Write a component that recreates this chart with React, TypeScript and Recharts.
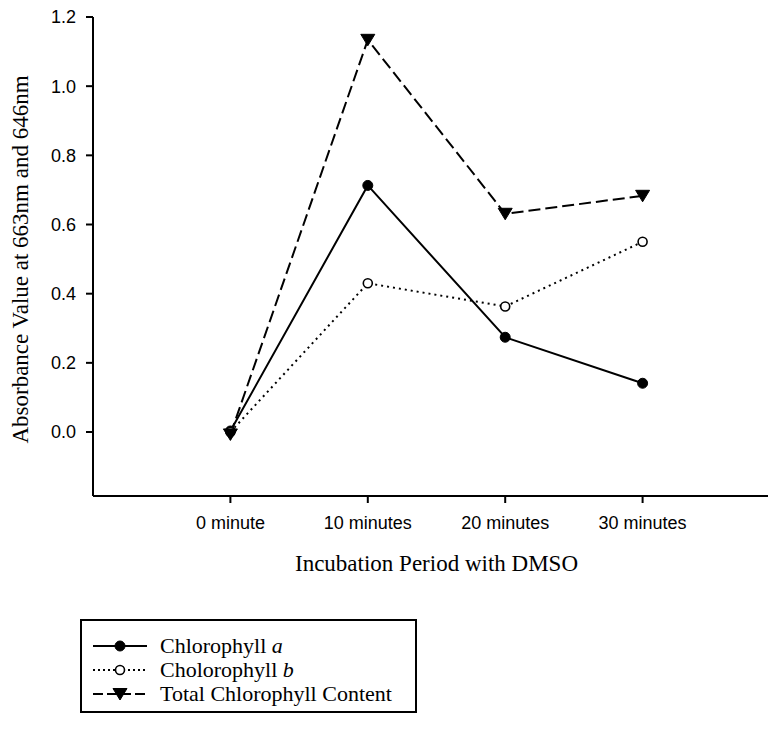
import { LineChart, Line, XAxis, YAxis } from 'recharts';

// incubation times (minutes) and their tick labels
const periods = [0, 10, 20, 30];
const periodLabels = ['0 minute', '10 minutes', '20 minutes', '30 minutes'];

// absorbance readings
const chlorophyllA = [0.003, 0.713, 0.274, 0.141];
const chlorophyllB = [0.0, 0.43, 0.363, 0.55];
const totalChlorophyll = [-0.007, 1.134, 0.631, 0.683];

const yTicks = [0, 0.2, 0.4, 0.6, 0.8, 1.0, 1.2];

const data = periods.map((t, i) => ({
  t,
  a: chlorophyllA[i],
  b: chlorophyllB[i],
  total: totalChlorophyll[i],
}));

const SANS = '"Liberation Sans", Arial, sans-serif';
const SERIF = '"Liberation Serif", "Times New Roman", serif';

const FilledDot = (props: any) => {
  const { cx, cy } = props;
  if (cx == null || cy == null) return null;
  return <circle cx={cx} cy={cy} r={5} fill="#000" stroke="#000" strokeWidth={1} />;
};

const OpenDot = (props: any) => {
  const { cx, cy } = props;
  if (cx == null || cy == null) return null;
  return <circle cx={cx} cy={cy} r={4.5} fill="#fff" stroke="#000" strokeWidth={1.6} />;
};

const TriangleDot = (props: any) => {
  const { cx, cy } = props;
  if (cx == null || cy == null) return null;
  return (
    <path
      d={`M${cx - 7},${cy - 5.5} L${cx + 7},${cy - 5.5} L${cx},${cy + 6} Z`}
      fill="#000"
      stroke="#000"
      strokeWidth={1}
    />
  );
};

const series = [
  { key: 'a', name: 'Chlorophyll ', italic: 'a', dash: undefined, legendDash: undefined, Dot: FilledDot },
  { key: 'b', name: 'Cholorophyll ', italic: 'b', dash: '2 4', legendDash: '2 3', Dot: OpenDot },
  { key: 'total', name: 'Total Chlorophyll Content', italic: '', dash: '12 5', legendDash: '10 4', Dot: TriangleDot },
];

const LegendBox = () => (
  <div
    style={{
      position: 'absolute',
      left: 80,
      top: 619,
      width: 337,
      height: 94,
      border: '2px solid #000',
      paddingTop: 13,
      boxSizing: 'border-box',
    }}
  >
    {series.map((s) => (
      <div key={s.key} style={{ display: 'flex', alignItems: 'center', height: 24 }}>
        <svg width={80} height={16} style={{ marginLeft: 10, flex: 'none' }}>
          <line x1={1} y1={8} x2={55} y2={8} stroke="#000" strokeWidth={2} strokeDasharray={s.legendDash} />
          <s.Dot cx={28} cy={8} />
        </svg>
        <span style={{ fontFamily: SERIF, fontSize: 22, color: '#000', marginLeft: -12, lineHeight: '24px' }}>
          {s.name}
          {s.italic && <i>{s.italic}</i>}
        </span>
      </div>
    ))}
  </div>
);

export default function App() {
  return (
    <div style={{ position: 'absolute', left: 0, top: 0, width: 768, height: 729, overflow: 'hidden', background: '#fff' }}>
      <LineChart width={780} height={729} data={data} margin={{ top: 17, right: 0, left: 0, bottom: 193 }}>
        <XAxis
          xAxisId="top"
          orientation="top"
          dataKey="t"
          type="number"
          domain={[-10, 40]}
          tick={false}
          tickLine={false}
          height={0}
          axisLine={{ stroke: '#000', strokeWidth: 2 }}
        />
        <XAxis
          dataKey="t"
          type="number"
          domain={[-10, 40]}
          ticks={periods}
          tickFormatter={(v: number) => periodLabels[periods.indexOf(v)]}
          height={40}
          tickSize={7}
          tickMargin={13}
          axisLine={{ stroke: '#000', strokeWidth: 2 }}
          tickLine={{ stroke: '#000', strokeWidth: 2 }}
          tick={{ fill: '#000', fontSize: 18, fontFamily: SANS }}
          label={{
            value: 'Incubation Period with DMSO',
            position: 'bottom',
            offset: 19,
            style: { fill: '#000', fontSize: 23, fontFamily: SERIF },
          }}
        />
        <YAxis
          type="number"
          domain={[-0.185, 1.2]}
          ticks={yTicks}
          tickFormatter={(v: number) => v.toFixed(1)}
          width={93}
          tickSize={7}
          tickMargin={10}
          axisLine={{ stroke: '#000', strokeWidth: 2 }}
          tickLine={{ stroke: '#000', strokeWidth: 2 }}
          tick={{ fill: '#000', fontSize: 18, fontFamily: SANS }}
          label={{
            value: 'Absorbance Value at 663nm and 646nm',
            angle: -90,
            position: 'insideLeft',
            offset: 20,
            dy: 3,
            style: { fill: '#000', fontSize: 23, fontFamily: SERIF, textAnchor: 'middle' },
          }}
        />
        {series.map((s) => (
          <Line
            key={s.key}
            dataKey={s.key}
            stroke="#000"
            strokeWidth={2}
            strokeDasharray={s.dash}
            dot={<s.Dot />}
            activeDot={false}
            isAnimationActive={false}
          />
        ))}
      </LineChart>
      <LegendBox />
    </div>
  );
}
